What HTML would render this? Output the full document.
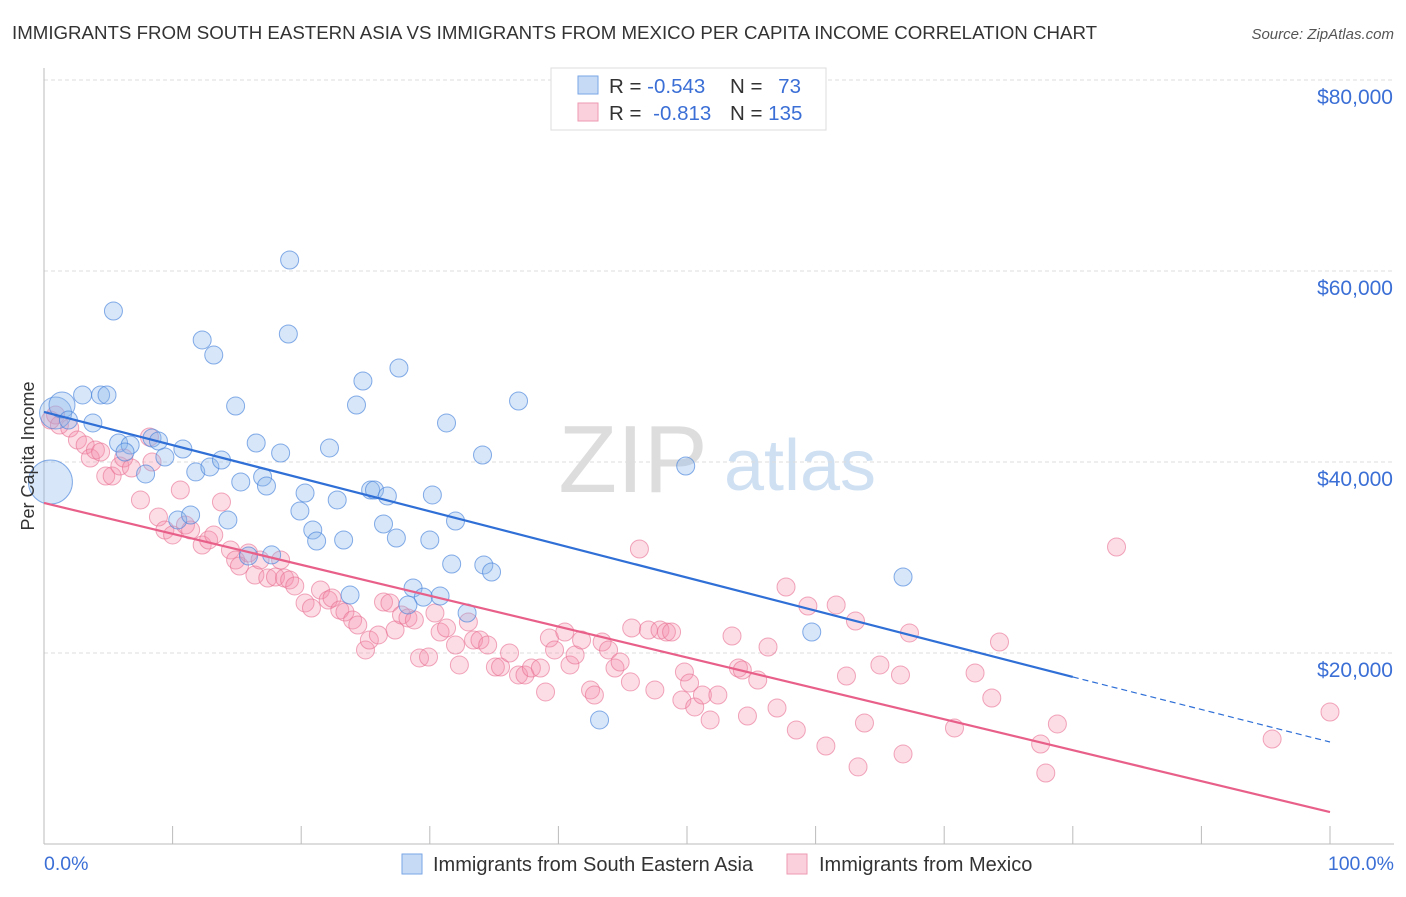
<!DOCTYPE html>
<html><head><meta charset="utf-8">
<style>
body{margin:0;background:#fff;font-family:"Liberation Sans",sans-serif;}
svg text{font-family:"Liberation Sans",sans-serif;}
</style></head>
<body>
<svg id="chart" width="1406" height="892" xmlns="http://www.w3.org/2000/svg">
<text x="12" y="39" font-size="18.7" fill="#333">IMMIGRANTS FROM SOUTH EASTERN ASIA VS IMMIGRANTS FROM MEXICO PER CAPITA INCOME CORRELATION CHART</text>
<text x="1394" y="39" font-size="15" fill="#555" font-style="italic" text-anchor="end">Source: ZipAtlas.com</text>
<text x="633" y="492" font-size="96" fill="#ddd" font-family="Liberation Serif" text-anchor="middle">ZIP</text>
<text x="800" y="490" font-size="72" fill="#cfe0f3" text-anchor="middle">atlas</text>
<g id="grid"></g>
<g id="axes"></g>
<g id="pts"></g>
<g id="lines"></g>
<text transform="translate(34,456) rotate(-90)" font-size="18" fill="#333" text-anchor="middle">Per Capita Income</text>
<g>
<rect x="551" y="68" width="275" height="62" fill="#fff" stroke="#ddd"/>
<rect x="578" y="76" width="20" height="18" fill="#c6daf5" stroke="#7aa6e6"/>
<rect x="578" y="103" width="20" height="18" fill="#fad0dc" stroke="#ee9ab3"/>
<text x="609" y="93" font-size="20.5" fill="#333">R = <tspan fill="#3b6fd6">-0.543</tspan></text>
<text x="730" y="93" font-size="20.5" fill="#333">N = <tspan fill="#3b6fd6" dx="10">73</tspan></text>
<text x="609" y="120" font-size="20.5" fill="#333">R = <tspan fill="#3b6fd6" dx="6">-0.813</tspan></text>
<text x="730" y="120" font-size="20.5" fill="#333">N = <tspan fill="#3b6fd6">135</tspan></text>
</g>
<g>
<rect x="402" y="854" width="20" height="20" fill="#c6daf5" stroke="#7aa6e6"/>
<text x="433" y="871" font-size="20" fill="#333">Immigrants from South Eastern Asia</text>
<rect x="787" y="854" width="20" height="20" fill="#fad0dc" stroke="#ee9ab3"/>
<text x="819" y="871" font-size="20" fill="#333">Immigrants from Mexico</text>
</g>
<text x="44" y="870" font-size="19.5" fill="#3b6fd6">0.0%</text>
<text x="1394" y="870" font-size="19.5" fill="#3b6fd6" text-anchor="end">100.0%</text>
</svg>
<script>
const yTicks=[20000,40000,60000,80000];
const yTickLabels=["$20,000","$40,000","$60,000","$80,000"];
const xTicks=[0,10,20,30,40,50,60,70,80,90,100];
const asiaX=[0.9,1.4,0.5,3.0,4.4,4.9,1.9,3.8,5.4,5.8,6.7,6.3,7.9,8.4,8.9,9.4,10.8,12.3,13.2,11.8,12.9,13.8,14.9,14.3,15.3,16.5,17.0,17.3,18.4,19.1,19.0,19.9,20.3,20.9,21.2,22.2,22.8,23.3,23.8,24.3,24.8,25.4,25.7,26.7,26.4,27.4,27.6,28.7,29.5,28.3,30.0,30.2,30.8,31.3,31.7,32.0,32.9,34.1,34.2,34.8,36.9,43.2,49.9,59.7,66.8,15.9,17.7,10.4,11.4];
const asiaY=[45130,45970,37900,47020,47020,47020,44400,44090,55810,41990,41780,41050,38750,42510,42200,40520,41360,52780,51200,38960,39480,40210,45860,33930,37910,41990,38430,37490,40940,61150,53400,34870,36750,32880,31730,41470,36020,31830,26070,45970,48480,37070,37070,36440,33510,32040,49840,26810,25850,25030,31830,36550,25970,44090,29320,33820,24190,40730,29220,28480,46390,12990,39580,22200,27960,30160,30270,33930,34450];
const asiaSize=[16,13,22,9,9,9,9,9,9,9,9,9,9,9,9,9,9,9,9,9,9,9,9,9,9,9,9,9,9,9,9,9,9,9,9,9,9,9,9,9,9,9,9,9,9,9,9,9,9,9,9,9,9,9,9,9,9,9,9,9,9,9,9,9,9,9,9,9,9];
const mexX=[0.5,0.9,1.2,2.0,2.6,3.2,3.6,4.0,4.4,4.8,5.3,5.9,6.2,6.8,7.5,8.2,8.4,8.9,9.4,10.0,10.6,11.0,11.4,12.3,12.8,13.2,13.8,14.5,14.9,15.2,15.9,16.4,16.8,17.4,18.0,18.4,18.7,19.1,19.5,20.3,20.8,21.5,22.1,22.4,23.0,23.4,24.0,24.4,25.0,25.3,26.0,26.4,26.9,27.3,27.8,28.3,28.8,29.2,29.9,30.4,30.8,31.3,32.0,32.3,33.0,33.4,33.9,34.5,35.1,35.5,36.2,36.9,37.4,37.9,38.6,39.0,39.3,39.7,40.5,40.9,41.3,41.8,42.5,42.8,43.4,43.9,44.4,44.8,45.6,45.7,46.3,47.0,47.5,47.9,48.4,48.8,49.8,49.6,50.2,50.6,51.2,51.8,52.4,53.5,54.0,54.3,54.7,55.5,56.3,57.0,57.7,58.5,59.4,60.8,61.6,62.4,63.1,63.3,63.8,65.0,66.6,66.8,67.3,70.8,72.4,73.7,74.3,77.5,77.9,78.8,83.4,95.5,100];
const mexY=[44400,44920,43870,43560,42300,41780,40420,41260,41050,38530,38530,39580,40420,39370,36020,42620,40000,34240,32880,32360,37070,33400,32880,31310,31830,32360,35810,30790,29740,29110,30470,28170,29740,27850,27960,29740,27850,27650,27020,25240,24710,26600,25550,25760,24500,24290,23460,22930,20320,21360,21890,25340,25240,22410,23980,23670,23460,19480,19580,24190,22200,22620,20840,18750,23250,21360,21360,20840,18530,18530,20000,17700,17700,18430,18430,15920,21570,20320,22200,18750,19790,21360,16130,15600,21150,20320,18430,19060,16970,22620,30890,22410,16130,22410,22200,22200,18010,15080,16860,14350,15600,12990,15600,21780,18430,18220,13400,17170,20630,14240,26910,11940,24920,10260,25030,17590,23350,8070,12670,18750,17700,9420,22100,12150,17910,15290,21150,10470,7430,12570,31100,10990,13820];
const asiaTrend=[45240,17490,10680]; // at x=0, 80, 100
const mexTrend=[35710,3350]; // at x=0, 100
const NS="http://www.w3.org/2000/svg";
const X=v=>44+v*12.86;
const Y=v=>844-v*0.00955;
function mk(tag,attrs,parent){const e=document.createElementNS(NS,tag);for(const k in attrs)e.setAttribute(k,attrs[k]);parent.appendChild(e);return e;}
const grid=document.getElementById('grid'),axes=document.getElementById('axes'),pts=document.getElementById('pts'),lines=document.getElementById('lines');
yTicks.forEach((t,i)=>{
 const g=mk('line',{x1:44,x2:1394,y1:Y(t),y2:Y(t),stroke:'#ddd','stroke-dasharray':'4,3'},grid);
 
 
 const tx=mk('text',{x:1393,y:Y(t)+24,'font-size':21,fill:'#3b6fd6','text-anchor':'end'},axes);
 tx.textContent=yTickLabels[i];
 
 
});
const ya=mk('line',{x1:44,x2:44,y1:68,y2:844,stroke:'#bbb'},axes);


const xa=mk('line',{x1:44,x2:1394,y1:844,y2:844,stroke:'#bbb'},axes);


xTicks.forEach(t=>{
 const l=mk('line',{x1:X(t),x2:X(t),y1:826,y2:844,stroke:'#bbb'},axes);
 
 
});
mexX.forEach((x,i)=>{
 const c=mk('circle',{cx:X(x),cy:Y(mexY[i]),r:9,fill:'rgba(244,143,172,0.3)',stroke:'rgba(232,110,145,0.6)','stroke-width':1},pts);
 
 
});
asiaX.forEach((x,i)=>{
 const c=mk('circle',{cx:X(x),cy:Y(asiaY[i]),r:asiaSize[i],fill:'rgba(140,182,235,0.35)',stroke:'rgba(70,130,220,0.65)','stroke-width':1},pts);
 
 
});
const b1=mk('line',{x1:X(0),y1:Y(asiaTrend[0]),x2:X(80),y2:Y(asiaTrend[1]),stroke:'#2f6fd6','stroke-width':2.2},lines);


const b2=mk('line',{x1:X(80),y1:Y(asiaTrend[1]),x2:X(100),y2:Y(asiaTrend[2]),stroke:'#2f6fd6','stroke-width':1.2,'stroke-dasharray':'6,4'},lines);


const p1=mk('line',{x1:X(0),y1:Y(mexTrend[0]),x2:X(100),y2:Y(mexTrend[1]),stroke:'#e8608a','stroke-width':2.2},lines);


</script>
</body></html>
